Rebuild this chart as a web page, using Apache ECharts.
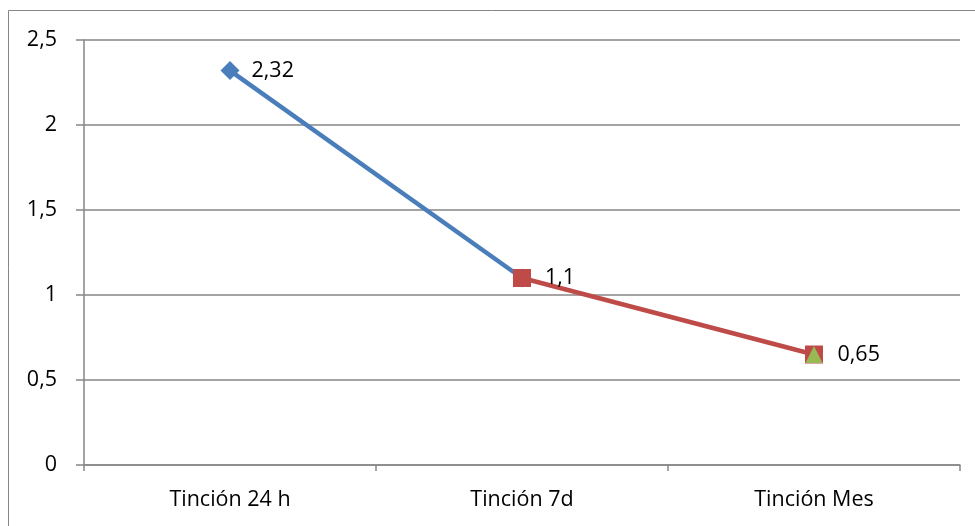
<!DOCTYPE html>
<html>
<head>
<meta charset="utf-8">
<script src="https://cdn.jsdelivr.net/npm/echarts@6/dist/echarts.min.js"></script>
<style>
  html, body { margin: 0; padding: 0; background: #fff; }
  #chart { width: 975px; height: 526px; }
</style>
</head>
<body>
<div id="chart"></div>
<script>
// Categories and values
const categories = ['Tinción 24 h', 'Tinción 7d', 'Tinción Mes'];
const seg24hTo7d = [2.32, 1.1, null];
const seg7dToMes = [null, 1.1, 0.65];
const pointMes = [null, null, 0.65];
const yTicks = { min: 0, max: 2.5, interval: 0.5 };

const FONT = 'Open Sans';
const FS = 21.5;
const GRAY = '#868686';
const comma = v => String(v).replace('.', ',');

const chart = echarts.init(document.getElementById('chart'), null, { renderer: 'canvas' });

function labelAt(idx, dist) {
  return {
    show: true,
    position: 'right',
    distance: dist,
    color: '#000',
    fontFamily: FONT,
    fontSize: FS,
    formatter: p => (p.dataIndex === idx && p.value != null) ? comma(p.value) : ''
  };
}

chart.setOption({
  animation: false,
  backgroundColor: '#fff',
  graphic: [{
    type: 'rect',
    shape: { x: 8.5, y: 10.5, width: 1000, height: 600 },
    style: { fill: 'none', stroke: GRAY, lineWidth: 1 },
    silent: true,
    z: -1
  }],
  grid: { left: 84, right: 15, top: 40, bottom: 61, containLabel: false },
  xAxis: {
    type: 'category',
    data: categories,
    boundaryGap: true,
    axisLine: { show: true, lineStyle: { color: GRAY, width: 1.5 } },
    axisTick: { show: true, alignWithLabel: false, length: 6, lineStyle: { color: GRAY, width: 1.5 } },
    axisLabel: { color: '#000', fontFamily: FONT, fontSize: FS, margin: 24 },
    splitLine: { show: false }
  },
  yAxis: {
    type: 'value',
    min: yTicks.min,
    max: yTicks.max,
    interval: yTicks.interval,
    axisLine: { show: true, lineStyle: { color: GRAY, width: 1.5 } },
    axisTick: { show: true, length: 8, lineStyle: { color: GRAY, width: 1.5 } },
    axisLabel: { color: '#000', fontFamily: FONT, fontSize: FS, margin: 27, formatter: v => comma(v) },
    splitLine: { show: true, lineStyle: { color: GRAY, width: 1.5 } }
  },
  series: [
    {
      type: 'line',
      data: seg24hTo7d,
      connectNulls: false,
      lineStyle: { color: '#4A7EBB', width: 4.5 },
      itemStyle: { color: '#4A7EBB' },
      symbol: 'diamond',
      symbolSize: 19,
      label: labelAt(0, 12),
      z: 2
    },
    {
      type: 'line',
      data: seg7dToMes,
      lineStyle: { color: '#BE4B48', width: 4.5 },
      itemStyle: { color: '#BE4B48' },
      symbol: 'rect',
      symbolSize: 18,
      label: labelAt(1, 14),
      z: 3
    },
    {
      type: 'line',
      data: pointMes,
      lineStyle: { color: '#98B954', width: 4.5 },
      itemStyle: { color: '#98B954' },
      symbol: 'triangle',
      symbolSize: 17,
      label: labelAt(2, 15),
      z: 4
    }
  ]
});
</script>
</body>
</html>
